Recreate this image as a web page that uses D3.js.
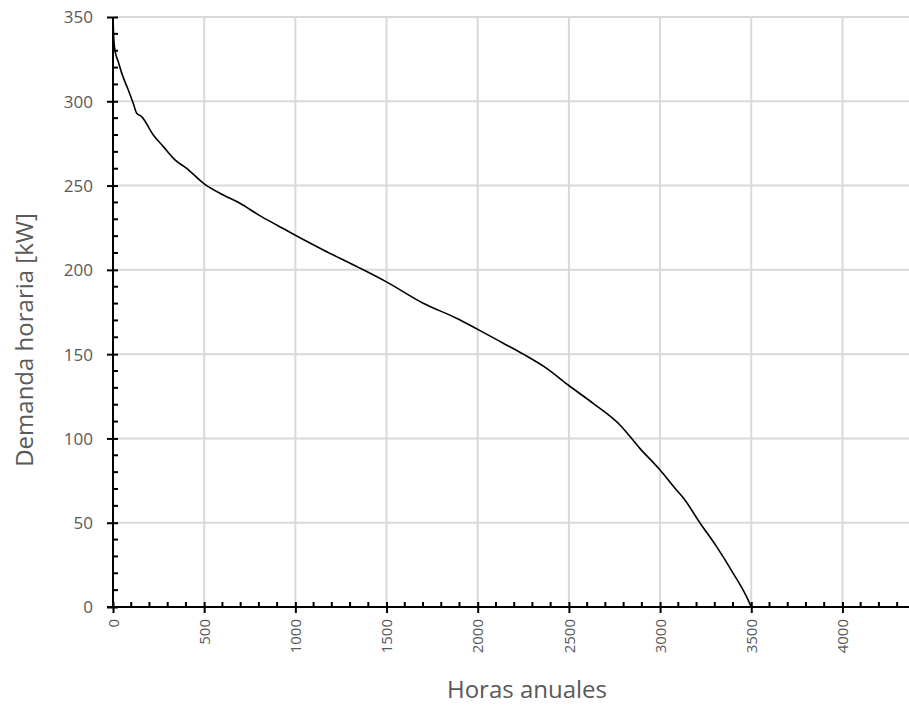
<!DOCTYPE html>
<html>
<head>
<meta charset="utf-8">
<script src="https://cdn.jsdelivr.net/npm/d3@7"></script>
<style>
  html, body { margin: 0; padding: 0; background: #fff; }
  svg { display: block; }
  text { font-family: "Open Sans", sans-serif; }
</style>
</head>
<body>
<svg id="chart" width="909" height="705"></svg>
<script>
// Load duration curve: hours of the year (sorted) vs. hourly demand
const hours  = [0, 3, 11, 29, 50, 84, 111, 130, 157, 221, 276, 340, 404, 500, 605, 696, 800, 900, 1000, 1153, 1336, 1497, 1701, 1884, 2000, 2140, 2250, 2378, 2496, 2633, 2780, 2889, 3000, 3090, 3127, 3218, 3310, 3401, 3470, 3500];
const demand = [350, 340, 330, 323.5, 316, 306.7, 298.8, 292.9, 290.9, 280, 273.1, 265.2, 260.2, 251, 244.4, 239.5, 232.5, 226.5, 220.5, 211.8, 202, 193, 180.2, 171.3, 164.7, 156.5, 150, 141.6, 131.7, 120.8, 108, 94.1, 81.3, 69.4, 64.8, 50, 35.8, 20, 7, 0];

const xTicks = [0, 500, 1000, 1500, 2000, 2500, 3000, 3500, 4000];
const yTicks = [0, 50, 100, 150, 200, 250, 300, 350];
const xTitle = "Horas anuales";
const yTitle = "Demanda horaria [kW]";

const svg = d3.select("#chart");
const plotLeft = 113, plotTop = 17, plotBottom = 607, plotRight = 909;

const x = d3.scaleLinear().domain([0, 4365]).range([plotLeft, plotRight]);
const y = d3.scaleLinear().domain([0, 350]).range([plotBottom, plotTop]);

// grid
const grid = svg.append("g").attr("stroke", "#d9d9d9").attr("stroke-width", 2);
grid.selectAll("line.v").data(xTicks.filter(d => d > 0)).join("line")
  .attr("x1", d => x(d)).attr("x2", d => x(d))
  .attr("y1", plotTop).attr("y2", plotBottom);
grid.selectAll("line.h").data(yTicks.filter(d => d > 0)).join("line")
  .attr("x1", plotLeft).attr("x2", plotRight)
  .attr("y1", d => y(d)).attr("y2", d => y(d));

// curve
const line = d3.line().x((d, i) => x(hours[i])).y(d => y(d)).curve(d3.curveMonotoneX);
svg.append("path").datum(demand)
  .attr("fill", "none").attr("stroke", "#000").attr("stroke-width", 1.6)
  .attr("d", line);

// minor ticks (inside the plot)
const minorX = d3.range(100, 4301, 100).filter(d => d % 500 !== 0);
const minorY = d3.range(10, 350, 10).filter(d => d % 50 !== 0);
const axes = svg.append("g").attr("stroke", "#000").attr("stroke-width", 2);
axes.selectAll("line.mx").data(minorX).join("line")
  .attr("x1", d => x(d)).attr("x2", d => x(d))
  .attr("y1", plotBottom - 5).attr("y2", plotBottom);
axes.selectAll("line.my").data(minorY).join("line")
  .attr("x1", plotLeft).attr("x2", plotLeft + 5)
  .attr("y1", d => y(d)).attr("y2", d => y(d));

// x axis with major ticks crossing the line
const xAxis = d3.axisBottom(x).tickValues(xTicks).tickSize(0).tickFormat(d3.format("d"));
const gx = svg.append("g").attr("transform", `translate(0,${plotBottom})`).call(xAxis);
gx.select(".domain").remove();
gx.selectAll(".tick line").remove();
gx.selectAll(".tick").append("line")
  .attr("y1", -5).attr("y2", 6).attr("stroke", "#000").attr("stroke-width", 2);
gx.selectAll(".tick text")
  .attr("font-family", "Open Sans, sans-serif").attr("font-size", 15).attr("fill", "#595959")
  .attr("transform", "rotate(-90)")
  .attr("text-anchor", "end")
  .attr("x", -12).attr("y", 0).attr("dy", "0.35em");

const yAxis = d3.axisLeft(y).tickValues(yTicks).tickSize(0).tickFormat(d3.format("d"));
const gy = svg.append("g").attr("transform", `translate(${plotLeft},0)`).call(yAxis);
gy.select(".domain").remove();
gy.selectAll(".tick line").remove();
gy.selectAll(".tick").append("line")
  .attr("x1", -6).attr("x2", 5).attr("stroke", "#000").attr("stroke-width", 2);
gy.selectAll(".tick text")
  .attr("font-family", "Open Sans, sans-serif").attr("font-size", 17).attr("fill", "#595959")
  .attr("x", -20).attr("dy", "0.35em");

// axis lines
axes.append("line").attr("x1", plotLeft - 6).attr("x2", plotRight).attr("y1", plotBottom).attr("y2", plotBottom);
axes.append("line").attr("x1", plotLeft).attr("x2", plotLeft).attr("y1", plotTop).attr("y2", plotBottom);

// titles
svg.append("text").attr("x", 527).attr("y", 698)
  .attr("text-anchor", "middle").attr("font-size", 24).attr("fill", "#595959")
  .text(xTitle);
svg.append("text").attr("transform", `translate(33,340) rotate(-90)`)
  .attr("text-anchor", "middle").attr("font-size", 24).attr("fill", "#595959")
  .text(yTitle);
</script>
</body>
</html>
